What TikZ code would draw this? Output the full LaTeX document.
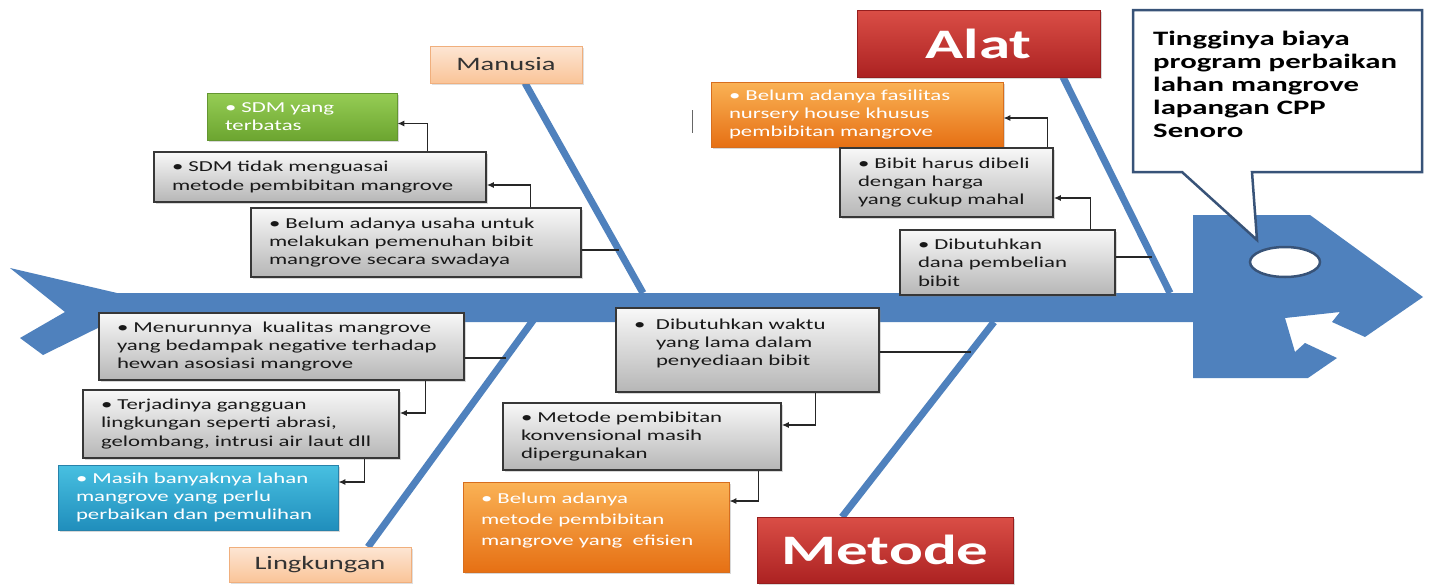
\documentclass[tikz,border=0pt]{standalone}
\usepackage{fontspec}
\setmainfont{Carlito}[FakeStretch=1.5]
\usepackage{tikz}
\usetikzlibrary{positioning, shadows, arrows.meta, calc}
\definecolor{fishblue}{RGB}{79,129,189}
\definecolor{callline}{RGB}{56,83,120}
\definecolor{boxline}{RGB}{55,55,55}
\definecolor{graytop}{RGB}{248,248,248}
\definecolor{graybot}{RGB}{182,182,182}
\definecolor{greentop}{RGB}{150,205,85}
\definecolor{greenbot}{RGB}{108,165,48}
\definecolor{greenline}{RGB}{100,150,50}
\definecolor{orangetop}{RGB}{250,178,85}
\definecolor{orangebot}{RGB}{230,112,20}
\definecolor{orangeline}{RGB}{215,110,30}
\definecolor{cyantop}{RGB}{72,192,225}
\definecolor{cyanbot}{RGB}{32,142,188}
\definecolor{cyanline}{RGB}{40,130,170}
\definecolor{peachtop}{RGB}{253,230,212}
\definecolor{peachbot}{RGB}{250,196,152}
\definecolor{peachline}{RGB}{240,175,125}
\definecolor{redtop}{RGB}{218,78,70}
\definecolor{redbot}{RGB}{172,34,34}
\definecolor{redline}{RGB}{150,30,30}
\tikzset{
  cause/.style={rectangle, draw=boxline, line width=1.5pt, top color=graytop, bottom color=graybot,
    drop shadow={shadow xshift=2pt, shadow yshift=-2pt, opacity=0.3},
    align=left, inner xsep=18pt, inner ysep=2pt, text=black!90, font=\fontsize{15.2}{18.3}\selectfont},
  causegreen/.style={cause, draw=greenline, line width=0.8pt, top color=greentop, bottom color=greenbot, text=white},
  causeorange/.style={cause, draw=orangeline, line width=0.8pt, top color=orangetop, bottom color=orangebot, text=white},
  causecyan/.style={cause, draw=cyanline, line width=0.8pt, top color=cyantop, bottom color=cyanbot, text=white},
  bonelabel/.style={rectangle, draw=peachline, line width=0.8pt, top color=peachtop, bottom color=peachbot,
    drop shadow={shadow xshift=2pt, shadow yshift=-2pt, opacity=0.25},
    inner sep=0pt, text=black!80, font=\fontsize{19}{22}\selectfont},
  mainlabel/.style={rectangle, draw=redline, line width=0.8pt, top color=redtop, bottom color=redbot,
    drop shadow={shadow xshift=2pt, shadow yshift=-2pt, opacity=0.3},
    inner sep=0pt, text=white, font=\fontsize{42}{46}\selectfont\bfseries},
  problem/.style={align=left, inner sep=0pt, text=black, font=\fontsize{20.5}{23}\selectfont\bfseries},
  bone/.style={draw=fishblue, line width=7pt},
  arr/.style={-{Latex[length=7pt, width=6pt]}, draw=black!85, line width=1.3pt},
  link/.style={draw=black!85, line width=1.3pt},
}
\begin{document}
\begin{tikzpicture}[x=1pt, y=-1pt]
\useasboundingbox (0,0) rectangle (1430,584);
\fill[white] (0,0) rectangle (1430,584);

% bones
\coordinate (manusiatop) at (525,83);
\coordinate (manusiabot) at (643,293);
\coordinate (alattop) at (1063,77);
\coordinate (alatbot) at (1170,293);
\coordinate (lingtop) at (537,315);
\coordinate (lingbot) at (368,547);
\coordinate (metodetop) at (994,322);
\coordinate (metodebot) at (842,517);
\draw[bone] (manusiatop) -- (manusiabot);
\draw[bone] (alattop) -- (alatbot);
\draw[bone] (lingtop) -- (lingbot);
\draw[bone] (metodetop) -- (metodebot);

% fish body
\fill[fishblue] (10,268) -- (117,293) -- (1193,293) -- (1193,215) -- (1310,215) -- (1423,297)
  -- (1365,337) -- (1332,322) -- (1340,312) -- (1285,318) -- (1295,352) -- (1305,343)
  -- (1337,358) -- (1308,378) -- (1193,378) -- (1193,322) -- (110,322) -- (43,355)
  -- (20,338) -- (65,312) -- cycle;

% callout
\filldraw[fill=white, draw=callline, line width=2.5pt] (1133,10) -- (1422,10) -- (1422,172)
  -- (1252,172) -- (1257,240) -- (1182,172) -- (1133,172) -- cycle;
\draw[fill=white, draw=callline, line width=2.5pt] (1285,262) ellipse [x radius=35pt, y radius=15pt];
\node[problem, anchor=north west] (masalah) at (1153,31) {Tingginya biaya\\program perbaikan\\lahan mangrove\\lapangan CPP\\Senoro};

\draw[black!60, line width=1pt] (692,110) -- (692,133);

% Manusia
\node[bonelabel, minimum width=152pt, minimum height=37pt] (manusia) at (506,64.5) {Manusia};
\node[causegreen, minimum width=190pt, minimum height=47pt, text width=154pt] (sdmbatas) at (302,116.5) {• SDM yang\\terbatas};
\node[cause, minimum width=332pt, minimum height=50pt, text width=296pt] (sdmtidak) at (320,177) {• SDM tidak menguasai\\metode pembibitan mangrove};
\node[cause, minimum width=330pt, minimum height=69pt, text width=294pt] (usaha) at (416,242.5) {• Belum adanya usaha untuk\\melakukan pemenuhan bibit\\mangrove secara swadaya};

% Alat
\node[mainlabel, minimum width=243pt, minimum height=67pt] (alat) at (978.5,43.5) {Alat};
\node[causeorange, minimum width=292pt, minimum height=65pt, text width=256pt] (fasilitas) at (857,114.5) {• Belum adanya fasilitas\\nursery house khusus\\pembibitan mangrove};
\node[cause, minimum width=213pt, minimum height=69pt, text width=177pt] (bibit) at (946.5,182.5) {• Bibit harus dibeli\\dengan harga\\yang cukup mahal};
\node[cause, minimum width=215pt, minimum height=65pt, text width=179pt] (dana) at (1007.5,262.5) {• Dibutuhkan\\dana pembelian\\bibit};

% Lingkungan
\node[cause, minimum width=365pt, minimum height=67pt, text width=329pt] (kualitas) at (281.5,346.5) {• Menurunnya~ kualitas mangrove\\yang bedampak negative terhadap\\hewan asosiasi mangrove};
\node[cause, minimum width=316pt, minimum height=68pt, text width=280pt] (gangguan) at (241,424) {• Terjadinya gangguan\\lingkungan seperti abrasi,\\gelombang, intrusi air laut dll};
\node[causecyan, minimum width=280pt, minimum height=65pt, text width=244pt] (lahan) at (198,497.5) {• Masih banyaknya lahan\\mangrove yang perlu\\perbaikan dan pemulihan};
\node[bonelabel, minimum width=182pt, minimum height=35pt] (lingkungan) at (320,564.5) {Lingkungan};

% Metode
\node[cause, minimum width=263pt, text width=227pt, text height=19pt, text depth=61pt] (waktu) at (747.5,350) {\makebox[22pt][l]{•}Dibutuhkan waktu\\\hspace*{22pt}yang lama dalam\\\hspace*{22pt}penyediaan bibit};
\node[cause, minimum width=278pt, minimum height=67pt, text width=242pt] (konvensional) at (642,436.5) {• Metode pembibitan\\konvensional masih\\dipergunakan};
\node[causeorange, minimum width=266pt, text width=230pt, text height=19pt, text depth=67pt, font=\fontsize{15.2}{21}\selectfont] (efisien) at (596,527) {• Belum adanya\\metode pembibitan\\mangrove yang~ efisien};
\node[mainlabel, minimum width=256pt, minimum height=66pt] (metode) at (885,550) {Metode};

% connectors
\draw[arr] ([xshift=-59pt]sdmtidak.north east) |- ([yshift=-7pt]sdmbatas.east);
\draw[arr] ([xshift=-51pt]usaha.north east) |- ([yshift=-8pt]sdmtidak.east);
\coordinate (m1) at ($(manusiatop)!0.795!(manusiabot)$);
\draw[link] (usaha.east |- m1) -- (m1);

\draw[arr] ([xshift=-6pt]bibit.north east) |- ([yshift=-3.5pt]fasilitas.east);
\draw[arr] ([xshift=-25pt]dana.north east) |- ([yshift=-15.5pt]bibit.east);
\coordinate (a1) at ($(alattop)!0.833!(alatbot)$);
\draw[link] (dana.east |- a1) -- (a1);

\coordinate (l1) at ($(lingtop)!0.185!(lingbot)$);
\draw[link] (kualitas.east |- l1) -- (l1);
\draw[arr] ([xshift=-39pt]kualitas.south east) |- ([yshift=11pt]gangguan.east);
\draw[arr] ([xshift=-35pt]gangguan.south east) |- ([yshift=15.5pt]lahan.east);

\coordinate (t1) at ($(metodetop)!0.154!(metodebot)$);
\draw[link] (waktu.east |- t1) -- (t1);
\draw[arr] ([xshift=-64pt]waktu.south east) |- ([yshift=11.5pt]konvensional.east);
\draw[arr] ([xshift=-23pt]konvensional.south east) |- ([yshift=26pt]efisien.east);
\end{tikzpicture}
\end{document}
